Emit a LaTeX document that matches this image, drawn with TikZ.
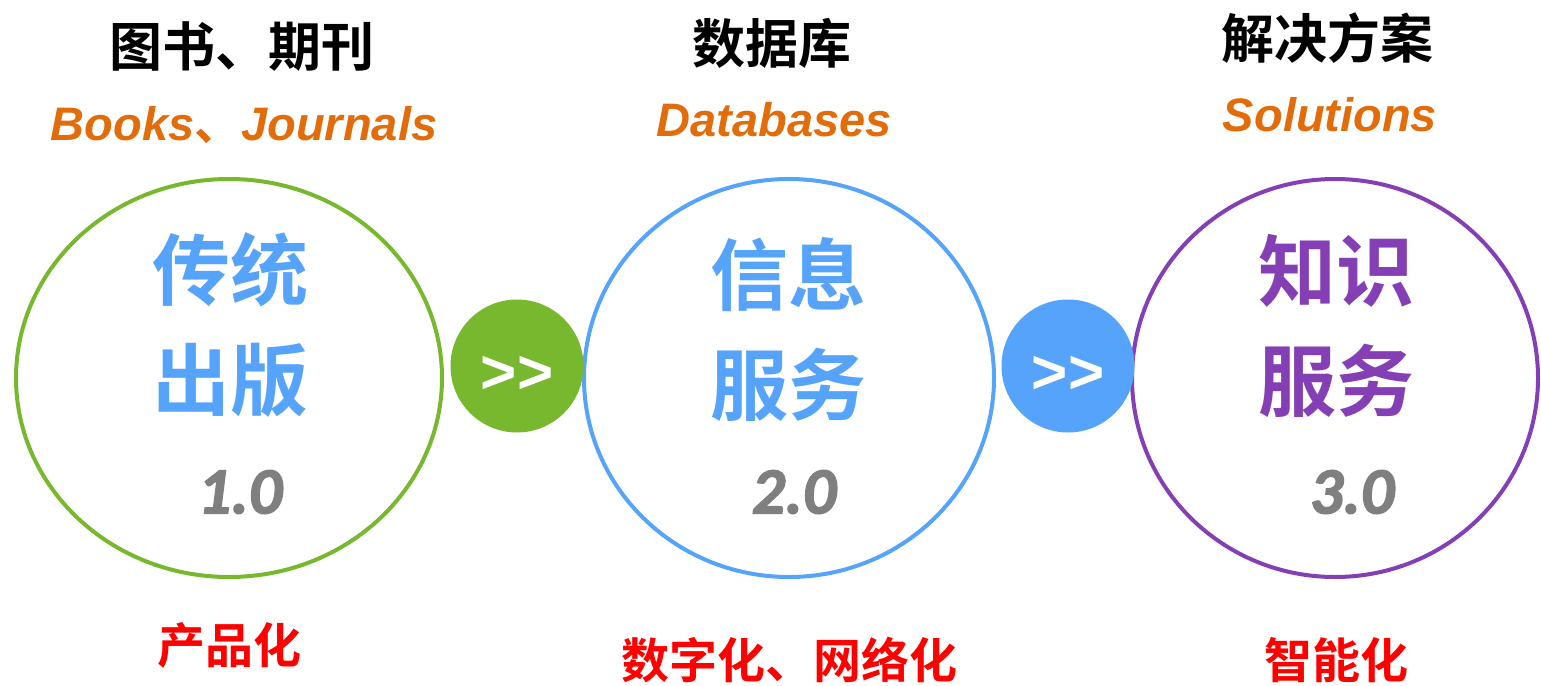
\documentclass[tikz,border=0pt]{standalone}
\usepackage{fontspec}
\usetikzlibrary{shapes.geometric}
\newfontfamily\cjk{Noto Sans CJK SC}[BoldFont={Noto Sans CJK SC Bold}]
\newfontfamily\arialbi{Liberation Sans Bold Italic}
\newfontfamily\arialb{Liberation Sans Bold}
\newfontfamily\carlbi{Carlito Bold Italic}[FakeBold=2]
\definecolor{cgreen}{HTML}{78B82F}
\definecolor{cblue}{HTML}{55A3FB}
\definecolor{cpurple}{HTML}{843FB4}
\definecolor{corange}{HTML}{E36C0A}
\definecolor{cred}{HTML}{FF0000}
\definecolor{cgray}{HTML}{7F7F7F}
\tikzset{
  bigcirc/.style={draw, ellipse, line width=4pt, inner sep=0pt, minimum width=#1},
  smallcirc/.style={circle, fill=#1, inner sep=0pt, minimum size=133pt},
  arrowtext/.style={text=white, inner sep=0pt, font=\arialb\fontsize{62}{62}\selectfont},
  cntitle/.style={inner sep=0pt, anchor=center, font=\cjk\bfseries\fontsize{53}{53}\selectfont},
  entitle/.style={inner sep=0pt, anchor=center, text=corange, font=\arialbi\fontsize{47}{47}\selectfont},
  bigtext/.style={inner sep=0pt, anchor=center, align=center, text=#1, font=\cjk\bfseries\fontsize{78}{110}\selectfont},
  version/.style={inner sep=0pt, anchor=center, text=cgray, font=\carlbi\fontsize{66}{66}\selectfont},
  redtext/.style={inner sep=0pt, anchor=center, text=cred, font=\cjk\bfseries\fontsize{48}{48}\selectfont}
}
\begin{document}
\begin{tikzpicture}[x=1pt,y=-1pt]
\useasboundingbox (0,0) rectangle (1541,685);
% big ellipses
\node[bigcirc=426pt, minimum height=398pt, draw=cgreen] (c1) at (229,378) {};
\node[bigcirc=410pt, minimum height=398pt, draw=cblue] (c2) at (789,378) {};
\node[bigcirc=406pt, minimum height=398pt, draw=cpurple] (c3) at (1335,378) {};
% small circles
\node[smallcirc=cgreen] (s1) at (517,366) {};
\node[arrowtext] (g1) at (517,375) {>>};
\node[smallcirc=cblue] (s2) at (1068,366) {};
\node[arrowtext] (g2) at (1068,375) {>>};
% titles
\node[cntitle] (t1) at (242,47) {图书、期刊};
\node[entitle] (e1) at (244,125) {Books{\cjk\bfseries 、}Journals};
\node[cntitle] (t2) at (772,43) {数据库};
\node[entitle] (e2) at (774,120) {Databases};
\node[cntitle] (t3) at (1327,38) {解决方案};
\node[entitle] (e3) at (1330,115) {Solutions};
% inner texts
\node[bigtext=cblue] (b1) at (230,325) {传统\\出版};
\node[bigtext=cblue] (b2) at (788,330) {信息\\服务};
\node[bigtext=cpurple] (b3) at (1336,326) {知识\\服务};
\node[version] (v1) at (240,492) {1.0};
\node[version] (v2) at (794,492) {2.0};
\node[version] (v3) at (1352,492) {3.0};
% bottom labels
\node[redtext] (r1) at (229,645) {产品化};
\node[redtext] (r2) at (789,660) {数字化、网络化};
\node[redtext] (r3) at (1336,660) {智能化};
\end{tikzpicture}
\end{document}
